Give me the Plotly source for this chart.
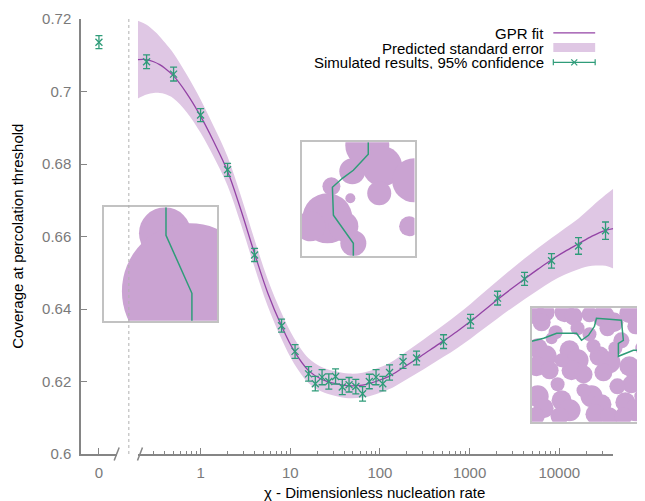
import plotly.graph_objects as go

# ---------------- data ----------------
zero_x = [0]
zero_y = [0.7136]
zero_err = [0.0018]

sim_x = [0.25, 0.5, 1, 2, 4, 8, 11.31, 16, 19.03, 22.63, 26.91, 32, 38.05, 45.25,
         53.82, 64, 76.11, 90.51, 107.6, 128, 181.0, 256, 512, 1024, 2048, 4096,
         8192, 16384, 32768]
sim_y = [0.7082, 0.7048, 0.6935, 0.6784, 0.6549, 0.6354, 0.6283, 0.6221, 0.6194,
         0.6212, 0.6200, 0.6214, 0.6185, 0.6191, 0.6186, 0.6166, 0.6200, 0.6212,
         0.6194, 0.6225, 0.6255, 0.6265, 0.6310, 0.6366, 0.6430, 0.6483, 0.6533,
         0.6574, 0.6616]
sim_err = [0.0019, 0.0019, 0.0018, 0.0018, 0.0018, 0.0018, 0.0019, 0.0020, 0.0020,
           0.0021, 0.0021, 0.0021, 0.0021, 0.0020, 0.0020, 0.0020, 0.0020, 0.0021,
           0.0020, 0.0021, 0.0019, 0.0019, 0.0019, 0.0019, 0.0019, 0.0018, 0.0020,
           0.0023, 0.0024]

gpr_x = [0.2, 0.25, 0.3, 0.35, 0.4, 0.5, 0.7, 1, 1.4, 2, 2.8, 4, 5.6, 8, 11, 16, 22,
         32, 45, 64, 90, 128, 181, 256, 362, 512, 724, 1024, 1448, 2048, 2896, 4096,
         5793, 8192, 11585, 16384, 23170, 32768, 40000]
gpr_mean = [0.7088, 0.7088, 0.7082, 0.7074, 0.7064, 0.7043, 0.6995, 0.6932, 0.6862,
            0.6780, 0.6675, 0.6553, 0.6445, 0.6353, 0.6285, 0.6230, 0.6207, 0.6194,
            0.6188, 0.6190, 0.6200, 0.6215, 0.6238, 0.6262, 0.6287, 0.6312, 0.6338,
            0.6366, 0.6396, 0.6426, 0.6455, 0.6483, 0.6510, 0.6536, 0.6559, 0.6580,
            0.6601, 0.6617, 0.6622]
gpr_err = [0.0107, 0.0096, 0.0086, 0.0078, 0.0071, 0.0062, 0.0052, 0.0046, 0.0042,
           0.0040, 0.0039, 0.0038, 0.0037, 0.0036, 0.0035, 0.0034, 0.0034, 0.0034,
           0.0034, 0.0034, 0.0035, 0.0036, 0.0038, 0.0040, 0.0042, 0.0044, 0.0046,
           0.0048, 0.0050, 0.0052, 0.0054, 0.0056, 0.0058, 0.0060, 0.0064, 0.0070,
           0.0082, 0.0098, 0.0110]

y_ticks = [0.6, 0.62, 0.64, 0.66, 0.68, 0.7, 0.72]
x_ticks = [1, 10, 100, 1000, 10000]
x_ticktext = ["1", "10", "100", "1000", "10000"]
x_minor = [0.3, 0.4, 0.5, 0.6, 0.7, 0.8, 0.9,
           2, 3, 4, 5, 6, 7, 8, 9,
           20, 30, 40, 50, 60, 70, 80, 90,
           200, 300, 400, 500, 600, 700, 800, 900,
           2000, 3000, 4000, 5000, 6000, 7000, 8000, 9000,
           20000, 30000]
legend_labels = ["GPR fit", "Predicted standard error", "Simulated results, 95% confidence"]
y_title = "Coverage at percolation threshold"
x_title = "χ - Dimensionless nucleation rate"

# inset pictures (circle centres / radii in inset pixel units)
in1_cx = [61, 86]
in1_cy = [26, 84]
in1_r = [26, 68]
in1_path_x = [62, 62, 88, 88]
in1_path_y = [0, 28, 86, 114]

in2_cx = [66, 51, 81, 113, 78, 30, 49, 26, 9, 52, 108, 42]
in2_cy = [3, 29, 24, 38, 51, 44, 56, 76, 84, 101, 84, 84]
in2_r = [22, 13, 20, 22, 12, 9, 5, 25, 15, 13, 10, 15]
in2_path_x = [67, 67, 52, 41, 31, 32, 52, 52]
in2_path_y = [0, 12, 28, 36, 45, 73, 101, 114]

in3_cx = [4, 14, 10, 33, 42, 58, 72, 82, 76, 98, 108, 104,
          6, 14, 5, 18, 38, 46, 40, 52, 68, 78, 72, 98, 106, 100,
          6, 12, 4, 30, 38, 28, 60, 70, 64, 78, 94, 104, 92,
          24, 58, 90, 26, 86, 52, 112, 30, 84, 20, 62, 46, 110]
in3_cy = [6, 4, 14, 4, 8, 6, 8, 14, 20, 5, 10, 18,
          40, 48, 58, 62, 42, 52, 62, 66, 48, 54, 64, 58, 66, 76,
          88, 100, 108, 92, 102, 108, 88, 96, 106, 108, 94, 102, 108,
          24, 26, 32, 76, 78, 82, 40, 52, 40, 30, 38, 20, 88]
in3_r = [10, 9, 9, 10, 9, 8, 11, 10, 8, 10, 10, 8,
         10, 11, 10, 9, 10, 11, 10, 9, 10, 11, 9, 10, 11, 9,
         11, 10, 9, 10, 11, 9, 11, 10, 10, 9, 10, 11, 9,
         7, 7, 8, 7, 8, 7, 8, 7, 7, 6, 7, 7, 7]
in3_path_x = [0, 12, 25, 45, 50, 57, 63, 65, 78, 90, 92, 87, 87, 95, 102, 112]
in3_path_y = [33, 30, 25, 25, 32, 27, 18, 10, 11, 12, 32, 35, 48, 45, 42, 42]

# ---------------- styles ----------------
# the page body adds an 8px offset, so the figure is 8px smaller than the window
OFF = 8
W, H = 645 - OFF, 501 - OFF
ML, MR, MT, MB = 81 - OFF, 0, 19 - OFF, 47
PW, PH = W - ML - MR, H - MT - MB
FONT = "Liberation Sans, Arial, sans-serif"
GREEN = "#2f9c79"
PURPLE = "#9343a5"
BAND = "#dfc7e4"
INSET = "#caa3d2"
GRAY = "#858585"
TICKC = "#7a7a7a"


def xp(px):
    return (px - 81) / PW


def yp(py):
    return (454 - py) / PH


fig = go.Figure()

upper = [m + e for m, e in zip(gpr_mean, gpr_err)]
lower = [m - e for m, e in zip(gpr_mean, gpr_err)]

fig.add_trace(go.Scatter(x=gpr_x, y=upper, xaxis="x2", yaxis="y", mode="lines",
                         line=dict(width=0, shape="spline"), hoverinfo="skip",
                         showlegend=False))
fig.add_trace(go.Scatter(x=gpr_x, y=lower, xaxis="x2", yaxis="y", mode="lines",
                         line=dict(width=0, shape="spline"), fill="tonexty",
                         fillcolor=BAND, hoverinfo="skip", showlegend=False))
fig.add_trace(go.Scatter(x=gpr_x, y=gpr_mean, xaxis="x2", yaxis="y", mode="lines",
                         line=dict(color=PURPLE, width=1.3, shape="spline"),
                         showlegend=False))
fig.add_trace(go.Scatter(x=sim_x, y=sim_y, xaxis="x2", yaxis="y", mode="markers",
                         marker=dict(symbol="x-thin", size=7, color=GREEN,
                                     line=dict(color=GREEN, width=1.3)),
                         error_y=dict(type="data", array=sim_err, color=GREEN,
                                      thickness=1.3, width=3.5),
                         showlegend=False))
fig.add_trace(go.Scatter(x=zero_x, y=zero_y, xaxis="x", yaxis="y", mode="markers",
                         marker=dict(symbol="x-thin", size=7, color=GREEN,
                                     line=dict(color=GREEN, width=1.3)),
                         error_y=dict(type="data", array=zero_err, color=GREEN,
                                      thickness=1.3, width=3.5),
                         showlegend=False))

# insets
insets = [
    (in1_cx, in1_cy, in1_r, in1_path_x, in1_path_y, "3", (104.3, 207.3), 113.4),
    (in2_cx, in2_cy, in2_r, in2_path_x, in2_path_y, "4", (302.3, 142.3), 113.4),
    (in3_cx, in3_cy, in3_r, in3_path_x, in3_path_y, "5", (533.3, 308.3), 111.7),
]
for cx, cy, r, px_, py_, k, (x0, y0), wpx in insets:
    fig.add_trace(go.Scatter(x=cx, y=cy, xaxis="x" + k, yaxis="y" + k, mode="markers",
                             marker=dict(size=[2 * v for v in r], color=INSET,
                                         line=dict(width=0), opacity=1),
                             cliponaxis=True, hoverinfo="skip", showlegend=False))
    fig.add_trace(go.Scatter(x=px_, y=py_, xaxis="x" + k, yaxis="y" + k, mode="lines",
                             line=dict(color=GREEN, width=1.5), cliponaxis=True,
                             hoverinfo="skip", showlegend=False))
    ax = dict(showline=True, mirror=True, linecolor="#c2c2c2", linewidth=1.5,
              showticklabels=False, ticks="", showgrid=False, zeroline=False)
    fig.layout["xaxis" + k] = dict(ax, domain=[xp(x0), min(1.0, xp(x0 + wpx))],
                                   range=[0, wpx], anchor="y" + k)
    fig.layout["yaxis" + k] = dict(ax, domain=[yp(y0 + 113.4), yp(y0)],
                                   range=[113.4, 0], anchor="x" + k)

tickfont = dict(family=FONT, size=15, color=TICKC)
fig.update_layout(
    width=W, height=H,
    margin=dict(l=ML, r=MR, t=MT, b=MB, pad=0),
    paper_bgcolor="white", plot_bgcolor="rgba(0,0,0,0)",
    font=dict(family=FONT, size=15, color="black"),
    xaxis=dict(domain=[0, xp(117)], range=[-1, 1], tickvals=[0], ticktext=["0"],
               ticks="inside", ticklen=6, tickcolor=GRAY, tickwidth=1.2,
               showline=True, linecolor=GRAY, linewidth=1.5, showgrid=False,
               zeroline=False, tickfont=tickfont, anchor="y", ticklabelstandoff=4),
    xaxis2=dict(domain=[xp(138), xp(615)], type="log", range=[-0.7, 4.6],
                tickmode="array", tickvals=x_ticks, ticktext=x_ticktext,
                ticks="inside", ticklen=6, tickcolor=GRAY, tickwidth=1.2,
                minor=dict(ticks="inside", ticklen=3, tickcolor=GRAY, tickwidth=1.2,
                           tickmode="array", tickvals=x_minor, showgrid=False),
                showline=True, linecolor=GRAY, linewidth=1.5, showgrid=False,
                zeroline=False, tickfont=tickfont, anchor="y", ticklabelstandoff=4),
    yaxis=dict(domain=[0, 1], range=[0.6, 0.72], tickvals=y_ticks,
               ticks="inside", ticklen=6, tickcolor=GRAY, tickwidth=1.2,
               showline=True, linecolor=GRAY, linewidth=1.5, showgrid=False,
               zeroline=False, tickfont=tickfont, anchor="x", ticklabelstandoff=5),
    showlegend=False,
)

shapes = []
# dotted separator
shapes.append(dict(type="line", xref="paper", yref="paper", x0=xp(129), x1=xp(129),
                   y0=0, y1=1, line=dict(color="#b0b0b0", width=1, dash="dot")))
# axis break slashes
for sx in (114.3, 137.7):
    shapes.append(dict(type="line", xref="paper", yref="paper", x0=xp(sx), x1=xp(sx + 5),
                       y0=yp(460.5), y1=yp(447.5), line=dict(color=GRAY, width=1.5)))
# legend samples
LX0, LX1 = 555, 597
shapes.append(dict(type="line", xref="paper", yref="paper", x0=xp(LX0), x1=xp(LX1),
                   y0=yp(32.8), y1=yp(32.8), line=dict(color=PURPLE, width=1.3)))
shapes.append(dict(type="rect", xref="paper", yref="paper", x0=xp(LX0), x1=xp(LX1),
                   y0=yp(52), y1=yp(43), fillcolor=BAND, line=dict(width=0)))
gy = 62.3
shapes.append(dict(type="line", xref="paper", yref="paper", x0=xp(LX0), x1=xp(LX1),
                   y0=yp(gy), y1=yp(gy), line=dict(color=GREEN, width=1.2)))
for cxp in (LX0, LX1):
    shapes.append(dict(type="line", xref="paper", yref="paper", x0=xp(cxp), x1=xp(cxp),
                       y0=yp(gy - 3), y1=yp(gy + 3), line=dict(color=GREEN, width=1.2)))
mx = (LX0 + LX1) / 2
shapes.append(dict(type="line", xref="paper", yref="paper", x0=xp(mx - 3), x1=xp(mx + 3),
                   y0=yp(gy - 3), y1=yp(gy + 3), line=dict(color=GREEN, width=1.2)))
shapes.append(dict(type="line", xref="paper", yref="paper", x0=xp(mx - 3), x1=xp(mx + 3),
                   y0=yp(gy + 3), y1=yp(gy - 3), line=dict(color=GREEN, width=1.2)))
fig.update_layout(shapes=shapes)

annotations = []
for lab, ly in zip(legend_labels, (33.3, 47.7, 62.3)):
    annotations.append(dict(text=lab, xref="paper", yref="paper", x=xp(547), y=yp(ly),
                            xanchor="right", yanchor="middle", showarrow=False,
                            height=14, valign="middle", borderpad=0,
                            font=dict(family=FONT, size=15, color="black")))
annotations.append(dict(text=y_title, xref="paper", yref="paper", x=xp(17), y=yp(236.5),
                        textangle=-90, xanchor="center", yanchor="middle", showarrow=False,
                        font=dict(family=FONT, size=15, color="black")))
annotations.append(dict(text=x_title, xref="paper", yref="paper", x=xp(376), y=yp(492),
                        xanchor="center", yanchor="middle", showarrow=False,
                        font=dict(family=FONT, size=15, color="black")))
fig.update_layout(annotations=annotations)

fig.write_html("out.html")
